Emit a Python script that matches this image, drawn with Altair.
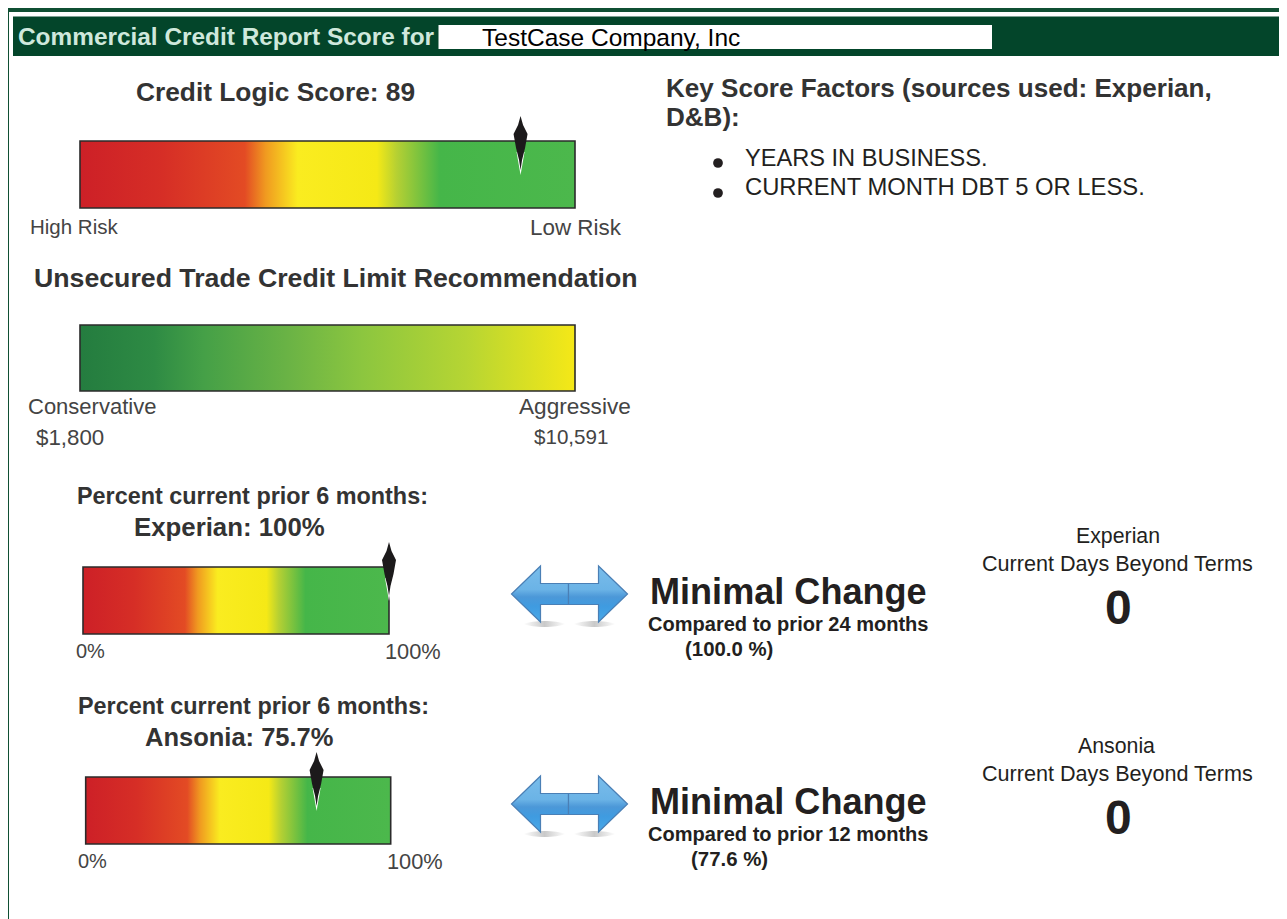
import altair as alt
import pandas as pd

WIDTH, HEIGHT = 1271, 911
X = alt.Scale(domain=[8, 1279], range=[0, WIDTH])
Y = alt.Scale(domain=[8, 919], range=[0, HEIGHT])
FONT = "Liberation Sans"

# Gauges: label, left, right, top, bottom, gradient, pointer value
gauge_names = ["score", "limit", "experian", "ansonia"]
gauge_left = [80, 80, 83, 85.7]
gauge_right = [575, 575, 389, 390.7]
gauge_top = [140, 324, 566, 776]
gauge_bottom = [207, 390, 633, 843]
pointer_values = [89, None, 100, 75.7]

risk_offsets = [0, .166, .333, .375, .44, .60, .64, .727, 1]
risk_colors = ["#cd2027", "#d62e26", "#e34b24", "#f09a20", "#faec20", "#f5e916", "#b5d033", "#45b649", "#4cb84c"]
limit_offsets = [0, .15, .25, .42, .57, .78, 1]
limit_colors = ["#247c3f", "#2e8b44", "#45a047", "#6ab345", "#8cc63f", "#b6d533", "#f5e817"]

# Text rows: text, left x, centre y, font size, colour
bold_text = ["Credit Logic Score: 89", "Unsecured Trade Credit Limit Recommendation",
             "Key Score Factors (sources used: Experian,", "D&B):",
             "Percent current prior 6 months:", "Experian: 100%",
             "Percent current prior 6 months:", "Ansonia: 75.7%",
             "Minimal Change", "Compared to prior 24 months", "(100.0 %)",
             "Minimal Change", "Compared to prior 12 months", "(77.6 %)", "0", "0"]
bold_x = [136, 34, 666, 666, 77, 134, 78, 145, 650, 648, 685, 650, 648, 691, 1105, 1105]
bold_y = [92, 278, 88, 117, 496, 527, 706, 737, 592, 624, 649, 802, 834, 859, 609, 819]
bold_size = [26.3, 26.7, 26.05, 26.05, 23.4, 25.8, 23.4, 25.5, 36.1, 20.05, 20.4, 36.1, 20.05, 20.4, 48, 48]
bold_color = ["#333333"] * 8 + ["#231f20"] * 8

plain_text = ["High Risk", "Low Risk", "Conservative", "Aggressive", "$1,800", "$10,591",
              "0%", "100%", "0%", "100%", "YEARS IN BUSINESS.", "CURRENT MONTH DBT 5 OR LESS.",
              "Experian", "Current Days Beyond Terms", "Ansonia", "Current Days Beyond Terms",
              "TestCase Company, Inc"]
plain_x = [30, 530, 28, 519, 36, 534, 76, 385, 78, 387, 745, 745, 1076, 982, 1078, 982, 482]
plain_y = [227, 227, 406, 406, 437, 437, 651, 651, 861, 861, 158, 187, 536, 564, 746, 774, 38]
plain_size = [20.5, 22.4, 22, 22.6, 22.3, 20.6, 20, 21.8, 20, 21.8, 23.6, 23.8, 21.3, 21.6, 21.3, 21.6, 24.5]
plain_color = ["#444444"] * 10 + ["#231f20"] * 6 + ["#000000"]

header_text = ["Commercial Credit Report Score for"]
bullet_x = [718, 718]
bullet_y = [162, 192]
arrow_x = [569.5, 569.5]
arrow_y = [593, 803]


def xy():
    return dict(x=alt.X("x:Q", scale=X, axis=None), y=alt.Y("y:Q", scale=Y, axis=None))


def band(x0, x1, y0, y1, color):
    df = pd.DataFrame({"x": [x0], "x2": [x1], "y": [y0], "y2": [y1]})
    return alt.Chart(df).mark_rect(color=color, strokeWidth=0).encode(
        **xy(), x2="x2:Q", y2="y2:Q")


def stops(offsets, colors):
    return [alt.GradientStop(offset=o, color=c) for o, c in zip(offsets, colors)]


def gauge(i, offsets, colors):
    df = pd.DataFrame({"x": [gauge_left[i]], "x2": [gauge_right[i]],
                       "y": [gauge_top[i]], "y2": [gauge_bottom[i]]})
    fill = alt.Gradient(gradient="linear", x1=0, x2=1, y1=0, y2=0, stops=stops(offsets, colors))
    return alt.Chart(df).mark_rect(fill=fill, stroke="#2b2b2b", strokeWidth=1.6).encode(
        **xy(), x2="x2:Q", y2="y2:Q")


def pointer(i):
    v = pointer_values[i]
    px = gauge_left[i] + v / 100 * (gauge_right[i] - gauge_left[i])
    df = pd.DataFrame({"x": [px], "y": [gauge_top[i] + 33]})
    halo = alt.Chart(df).mark_point(
        shape="M0,1 L-4,-22 L4,-22 Z", size=4, filled=True, color="#ffffff", opacity=1, strokeWidth=0
    ).encode(**xy())
    kite = alt.Chart(df).mark_point(
        shape="M0,-58 L-2.5,-49 L-7,-40 L-4.5,-26 L-1.5,-14 L0,-4 L1.5,-14 L4.5,-26 L7,-40 L2.5,-49 Z",
        size=4, filled=True, color="#1c1a1b", opacity=1, strokeWidth=0
    ).encode(**xy())
    return halo + kite


def texts(t, x, y, s, c, weight):
    df = pd.DataFrame({"t": t, "x": x, "y": y, "s": s, "c": c})
    return alt.Chart(df).mark_text(font=FONT, fontWeight=weight, align="left", baseline="middle").encode(
        **xy(), text="t:N", size=alt.Size("s:Q", scale=None, legend=None),
        color=alt.Color("c:N", scale=None, legend=None))


arrow_df = pd.DataFrame({"x": arrow_x, "y": arrow_y})
arrow_left = "M-58,0 L-29,-28 L-29,-10.5 L-1,-10.5 L-1,10.5 L-29,10.5 L-29,28 Z"
arrow_right = "M58,0 L29,-28 L29,-10.5 L-1,-10.5 L-1,10.5 L29,10.5 L29,28 Z"
shadow_left = "M-46,30 C-36,26 -14,26 -4,30 C-14,34 -36,34 -46,30 Z"
shadow_right = "M46,30 C36,26 14,26 4,30 C14,34 36,34 46,30 Z"
blue = alt.Gradient(gradient="linear", x1=0, x2=0, y1=0, y2=1, stops=stops(
    [0, .42, .55, .72, 1], ["#79bdeb", "#6bb3e6", "#4c98d8", "#3f9be0", "#4aa9e8"]))
shade = alt.Gradient(gradient="linear", x1=0, x2=1, y1=0, y2=0, stops=stops(
    [0, .5, 1], ["#ffffff", "#c9c9c9", "#ffffff"]))


def icon(path, fill, stroke="#4a7fb5", sw=1.2):
    return alt.Chart(arrow_df).mark_point(shape=path, size=4, filled=True, fill=fill, stroke=stroke,
                                          strokeWidth=sw, opacity=1).encode(**xy())


layers = [
    band(8, 1279, 7, 11, "#0f4f33"),
    band(8, 9, 8, 919, "#0f4f33"),
    band(13, 1279, 15.5, 55, "#03452a"),
    band(438.5, 992, 24, 48, "#ffffff"),
    texts(header_text, [18], [37], [24.4], ["#cfe8dc"], "bold"),
    gauge(0, risk_offsets, risk_colors),
    gauge(1, limit_offsets, limit_colors),
    gauge(2, risk_offsets, risk_colors),
    gauge(3, risk_offsets, risk_colors),
    pointer(0), pointer(2), pointer(3),
    icon(shadow_left, shade, "#ffffff", 0), icon(shadow_right, shade, "#ffffff", 0),
    icon(arrow_left, blue), icon(arrow_right, blue),
    alt.Chart(pd.DataFrame({"x": bullet_x, "y": bullet_y})).mark_point(
        shape="circle", size=95, filled=True, color="#231f20", opacity=1, strokeWidth=0).encode(**xy()),
    texts(bold_text, bold_x, bold_y, bold_size, bold_color, "bold"),
    texts(plain_text, plain_x, plain_y, plain_size, plain_color, "normal"),
]

chart = alt.layer(*layers).properties(
    width=WIDTH, height=HEIGHT, padding=0, background="#ffffff"
).configure_view(stroke=None).resolve_scale(color="independent")

chart.save("out.html", embed_options={"renderer": "svg", "actions": False})
